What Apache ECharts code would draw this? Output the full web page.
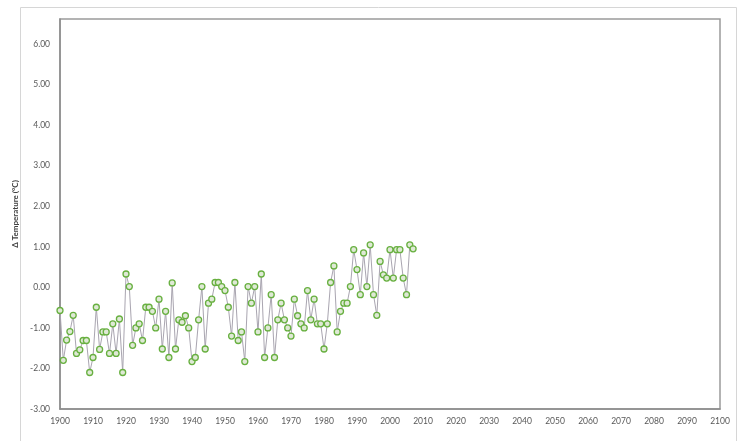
<!DOCTYPE html>
<html>
<head>
<meta charset="utf-8">
<script src="https://cdn.jsdelivr.net/npm/echarts@6/dist/echarts.min.js"></script>
<style>
  html, body { margin: 0; padding: 0; background: #ffffff; }
  #chart { width: 740px; height: 441px; }
</style>
</head>
<body>
<div id="chart"></div>
<script>
// Annual temperature anomaly, 1900-2007
const years = [];
for (let y = 1900; y <= 2007; y++) years.push(y);

const anomaly = [
  -0.57, -1.80, -1.30, -1.09, -0.69, -1.63, -1.54, -1.31, -1.31, -2.10,
  -1.73, -0.49, -1.53, -1.10, -1.10, -1.63, -0.90, -1.63, -0.78, -2.10,
   0.33,  0.02, -1.43, -1.00, -0.90, -1.31, -0.49, -0.49, -0.59, -1.00,
  -0.29, -1.52, -0.59, -1.73,  0.11, -1.52, -0.80, -0.86, -0.70, -1.00,
  -1.83, -1.73, -0.80,  0.02, -1.52, -0.39, -0.29,  0.12,  0.12,  0.02,
  -0.08, -0.49, -1.20,  0.12, -1.31, -1.10, -1.83,  0.02, -0.39,  0.02,
  -1.10,  0.33, -1.73, -1.00, -0.18, -1.73, -0.80, -0.39, -0.80, -1.00,
  -1.20, -0.29, -0.70, -0.90, -1.00, -0.08, -0.80, -0.29, -0.90, -0.90,
  -1.52, -0.90,  0.12,  0.53, -1.10, -0.59, -0.39, -0.39,  0.02,  0.93,
   0.44, -0.18,  0.85,  0.02,  1.05, -0.18, -0.69,  0.64,  0.31,  0.23,
   0.93,  0.23,  0.93,  0.93,  0.23, -0.18,  1.05,  0.95
];

const yTicks = [-3, -2, -1, 0, 1, 2, 3, 4, 5, 6];

const points = years.map((y, i) => [y, anomaly[i]]);

const chart = echarts.init(document.getElementById('chart'), null, { renderer: 'canvas' });

const labelFont = { fontFamily: 'Lato, "Open Sans", sans-serif', fontSize: 8.5, color: '#595959' };

chart.setOption({
  backgroundColor: '#ffffff',
  animation: false,
  graphic: [{
    type: 'rect',
    shape: { x: 20.5, y: 7.5, width: 716, height: 440 },
    style: { fill: 'none', stroke: '#d6d6d6', lineWidth: 1 },
    silent: true,
    z: 0
  }],
  grid: {
    left: 60, right: 20, top: 19, bottom: 32,
    show: true,
    borderColor: '#9a9a9a',
    borderWidth: 1.5,
    backgroundColor: '#ffffff'
  },
  xAxis: {
    type: 'value',
    min: 1900, max: 2100, interval: 10,
    axisLine: { show: true, onZero: false, lineStyle: { color: '#8c8c8c', width: 1.5 } },
    axisTick: { show: false },
    splitLine: { show: false },
    axisLabel: Object.assign({ margin: 8, formatter: v => String(v) }, labelFont)
  },
  yAxis: {
    type: 'value',
    min: yTicks[0], max: 6.62, interval: 1,
    name: 'Δ Temperature (°C)',
    nameLocation: 'middle',
    nameGap: 31,
    nameRotate: 90,
    nameTextStyle: { fontFamily: 'Lato, "Open Sans", sans-serif', fontSize: 8, fontWeight: 'bold', color: '#404040' },
    axisLine: { show: true, onZero: false, lineStyle: { color: '#8c8c8c', width: 1.5 } },
    axisTick: { show: false },
    splitLine: { show: false },
    axisLabel: Object.assign({
      margin: 10,
      showMaxLabel: false,
      formatter: v => yTicks.includes(v) ? v.toFixed(2) : ''
    }, labelFont)
  },
  series: [{
    type: 'line',
    data: points,
    symbol: 'circle',
    symbolSize: 6,
    showAllSymbol: true,
    lineStyle: { color: '#a9a5b0', width: 1 },
    itemStyle: { color: '#dfe9d6', borderColor: '#68b040', borderWidth: 1.3 },
    z: 3
  }]
});
</script>
</body>
</html>
